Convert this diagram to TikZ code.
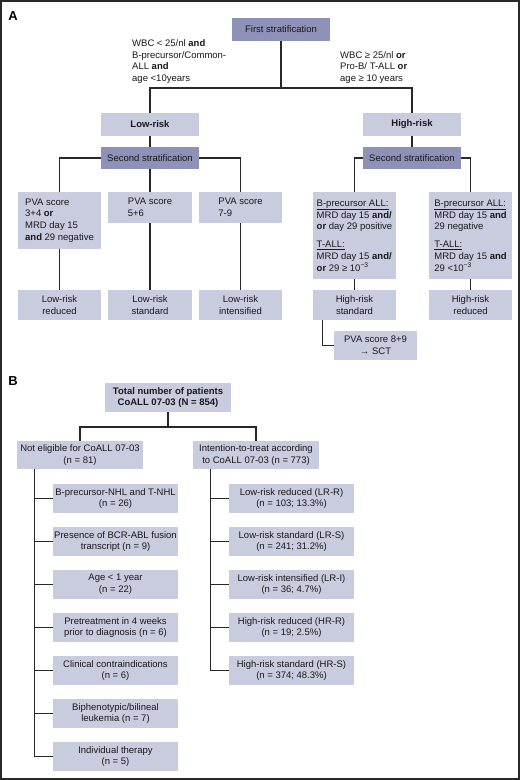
\documentclass[tikz,border=0pt]{standalone}
\usepackage{fontspec}
\setmainfont{Liberation Sans}
\usepackage{tikz}
\usetikzlibrary{calc,positioning}
\definecolor{mylight}{RGB}{201, 203, 222}
\definecolor{mydark}{RGB}{142, 146, 184}
\definecolor{myline}{RGB}{40, 40, 40}
\definecolor{mytext}{RGB}{25, 25, 25}
\tikzset{
  box/.style = {fill=mylight, inner sep=0pt, align=center, text=mytext,
                font=\fontsize{9.5}{11.8}\selectfont},
  dbox/.style = {box, fill=mydark},
  con/.style = {line width=1.3pt, draw=myline},
  lbl/.style = {inner sep=0pt, align=left, text=mytext, font=\fontsize{9.5}{11.6}\selectfont}
}

\begin{document}
\begin{tikzpicture}[x=1pt, y=-1pt]
\useasboundingbox (0,0) rectangle (520,780);
\draw[line width=1.2pt, myline] (1,1) rectangle (519,779);
\node[font=\fontsize{13}{13}\bfseries\selectfont] (labA) at (13,16) {A};
\node[font=\fontsize{13}{13}\bfseries\selectfont] (labB) at (13,381) {B};

\node[dbox, minimum width=98pt, minimum height=23pt] (first) at (281,29.5) {First stratification};
\node[lbl, anchor=west] (condlow) at (132,61.5) {WBC < 25/nl \textbf{and}\\B-precursor/Common-\\ALL \textbf{and}\\age <10years};
\node[lbl, anchor=west] (condhigh) at (340,67.5) {WBC ≥ 25/nl \textbf{or}\\Pro-B/ T-ALL \textbf{or}\\age ≥ 10 years};
\coordinate (split) at (281,88);

\node[box, minimum width=98pt, minimum height=23pt] (low) at (150,124.5) {\textbf{Low-risk}};
\node[box, minimum width=98pt, minimum height=23pt] (high) at (412,124.5) {\textbf{High-risk}};
\node[dbox, minimum width=98pt, minimum height=22pt] (secl) at (150,158) {Second stratification};
\node[dbox, minimum width=98pt, minimum height=22pt] (secr) at (412,158) {Second stratification};

\node[box, align=left, minimum width=83pt, minimum height=57pt] (pvaa) at (59.5,220.5) {PVA score\\3+4 \textbf{or}\\MRD day 15\\\textbf{and} 29 negative};
\node[box, align=left, minimum width=84pt, minimum height=31pt] (pvab) at (150,207.5) {PVA score\\5+6};
\node[box, align=left, minimum width=83pt, minimum height=31pt] (pvac) at (240.5,207.5) {PVA score\\7-9};
\node[box, align=left, minimum width=83pt, minimum height=87pt] (mrdpos) at (354.5,235.5) {\underline{B-precursor ALL:}\\MRD day 15 \textbf{and/}\\\textbf{or} day 29 positive\\[6pt]\underline{T-ALL:}\\MRD day 15 \textbf{and/}\\\textbf{or} 29 ≥ 10\textsuperscript{−3}};
\node[box, align=left, minimum width=83pt, minimum height=87pt] (mrdneg) at (470.5,235.5) {\underline{B-precursor ALL:}\\MRD day 15 \textbf{and}\\29 negative\\[6pt]\underline{T-ALL:}\\MRD day 15 \textbf{and}\\29 <10\textsuperscript{−3}};

\node[box, minimum width=83pt, minimum height=30pt] (lrr) at (59.5,305) {Low-risk\\reduced};
\node[box, minimum width=84pt, minimum height=30pt] (lrs) at (150,305) {Low-risk\\standard};
\node[box, minimum width=83pt, minimum height=30pt] (lri) at (240.5,305) {Low-risk\\intensified};
\node[box, minimum width=83pt, minimum height=30pt] (hrs) at (354.5,305) {High-risk\\standard};
\node[box, minimum width=83pt, minimum height=30pt] (hrr) at (470.5,305) {High-risk\\reduced};
\node[box, minimum width=83pt, minimum height=29pt] (sct) at (375.5,345.5) {PVA score 8+9\\→ SCT};

\draw[con] (first.south) -- (split) -| (low.north);
\draw[con] (split) -| (high.north);
\draw[con] (low.south) -- (secl.north);
\draw[con] (high.south) -- (secr.north);
\draw[con] (secl.west) -| (pvaa.north);
\draw[con] (secl.south) -- (pvab.north);
\draw[con] (secl.east) -| (pvac.north);
\draw[con] (secr.west) -| (mrdpos.north);
\draw[con] (secr.east) -| (mrdneg.north);
\draw[con] (pvaa.south) -- (lrr.north);
\draw[con] (pvab.south) -- (lrs.north);
\draw[con] (pvac.south) -- (lri.north);
\draw[con] (mrdpos.south) -- (hrs.north);
\draw[con] (mrdneg.south) -- (hrr.north);
\draw[con] ([xshift=10pt]hrs.south west) |- (sct.west);

\node[box, minimum width=126pt, minimum height=29pt] (total) at (168,397.5) {\textbf{Total number of patients}\\\textbf{CoALL 07-03 (N = 854)}};
\coordinate (bsplit) at (168,427);
\node[box, minimum width=126pt, minimum height=28pt] (noelig) at (80,455) {Not eligible for CoALL 07-03\\(n = 81)};
\node[box, minimum width=126pt, minimum height=28pt] (itt) at (256,455) {Intention-to-treat according\\to CoALL 07-03 (n = 773)};

\node[box, minimum width=125pt, minimum height=29pt] (ne1) at (115.5,498.5) {B-precursor-NHL and T-NHL\\(n = 26)};
\node[box, minimum width=125pt, minimum height=29pt] (ne2) at (115.5,541.5) {Presence of BCR-ABL fusion\\transcript (n = 9)};
\node[box, minimum width=125pt, minimum height=29pt] (ne3) at (115.5,584.5) {Age < 1 year\\(n = 22)};
\node[box, minimum width=125pt, minimum height=29pt] (ne4) at (115.5,627.5) {Pretreatment in 4 weeks\\prior to diagnosis (n = 6)};
\node[box, minimum width=125pt, minimum height=29pt] (ne5) at (115.5,670.5) {Clinical contraindications\\(n = 6)};
\node[box, minimum width=125pt, minimum height=29pt] (ne6) at (115.5,713.5) {Biphenotypic/bilineal\\leukemia (n = 7)};
\node[box, minimum width=125pt, minimum height=29pt] (ne7) at (115.5,756.5) {Individual therapy\\(n = 5)};

\node[box, minimum width=125pt, minimum height=29pt] (it1) at (291.5,498.5) {Low-risk reduced (LR-R)\\(n = 103; 13.3\%)};
\node[box, minimum width=125pt, minimum height=29pt] (it2) at (291.5,541.5) {Low-risk standard (LR-S)\\(n = 241; 31.2\%)};
\node[box, minimum width=125pt, minimum height=29pt] (it3) at (291.5,584.5) {Low-risk intensified (LR-I)\\(n = 36; 4.7\%)};
\node[box, minimum width=125pt, minimum height=29pt] (it4) at (291.5,627.5) {High-risk reduced (HR-R)\\(n = 19; 2.5\%)};
\node[box, minimum width=125pt, minimum height=29pt] (it5) at (291.5,670.5) {High-risk standard (HR-S)\\(n = 374; 48.3\%)};

\draw[con] (total.south) -- (bsplit) -| (noelig.north);
\draw[con] (bsplit) -| (itt.north);
\coordinate (lspine) at ([xshift=18pt]noelig.south west);
\coordinate (rspine) at ([xshift=18pt]itt.south west);
\draw[con] (lspine) |- (ne7.west);
\draw[con] (rspine) |- (it5.west);
\foreach \i in {1,...,6}
  \draw[con] (lspine |- ne\i.west) -- (ne\i.west);
\foreach \i in {1,...,4}
  \draw[con] (rspine |- it\i.west) -- (it\i.west);

\end{tikzpicture}
\end{document}
